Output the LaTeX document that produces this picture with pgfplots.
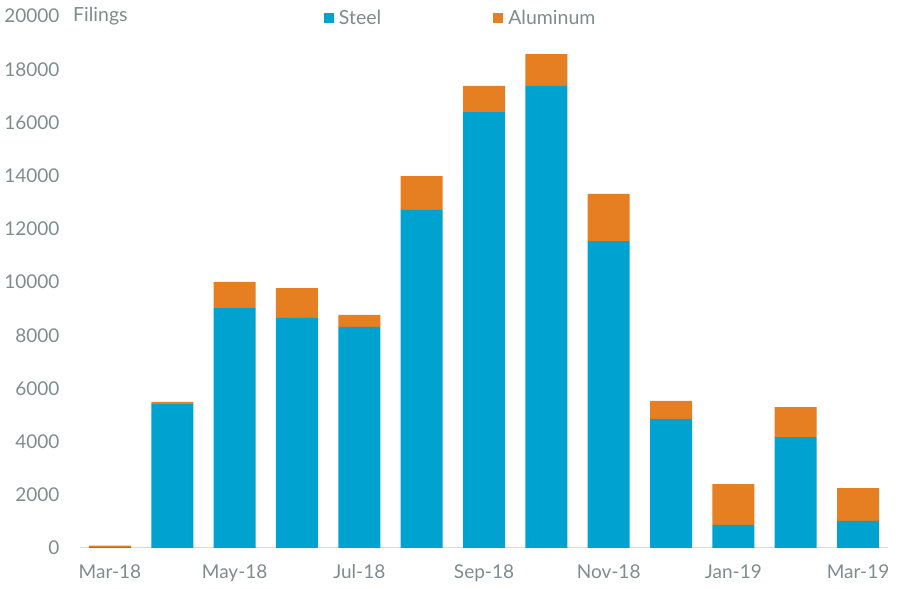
\documentclass[border=0pt]{standalone}
\usepackage{fontspec}
\setmainfont{Lato}
\usepackage{pgfplots}
\pgfplotsset{compat=1.18}
\definecolor{steel}{HTML}{00A2D0}
\definecolor{alu}{HTML}{E67E22}
\definecolor{txt}{HTML}{7F8C8D}
\definecolor{axisgray}{HTML}{D9D9D9}
\begin{document}
\begin{tikzpicture}
\useasboundingbox (-80pt,-41pt) rectangle (818pt,548pt);
\begin{axis}[
  scale only axis,
  width=808pt, height=532pt,
  anchor=south west, at={(0,0)},
  ybar stacked, bar width=42pt,
  xmin=-0.48, xmax=12.48,
  ymin=0, ymax=20000,
  ytick={0,2000,...,20000},
  scaled y ticks=false,
  yticklabel={\pgfmathprintnumber[fixed,1000 sep={}]{\tick}},
  xtick={0,2,...,12},
  xticklabels={Mar-18,May-18,Jul-18,Sep-18,Nov-18,Jan-19,Mar-19},
  axis x line*=bottom, axis y line*=left,
  x axis line style={draw=axisgray, line width=1pt},
  y axis line style={draw=none},
  major tick length=0pt,
  tick label style={font=\fontsize{19}{22}\selectfont, text=txt},
  /pgf/number format/assume math mode=true,
  yticklabel style={xshift=-17pt},
  xticklabel style={yshift=-13pt},
  legend style={draw=none, fill=none, at={(0.298,0.996)}, anchor=west,
    font=\fontsize{19.5}{22}\selectfont, text=txt, legend columns=2,
    /tikz/every even column/.append style={column sep=110pt}},
  legend image code/.code={\fill[#1] (0pt,-5pt) rectangle (10pt,5pt);
    \path (0pt,0pt) -- (13pt,0pt);},
  clip=false,
]
\addplot[fill=steel, draw=none] coordinates {
  (0,30) (1,5410) (2,9020) (3,8650) (4,8310) (5,12710) (6,16390)
  (7,17370) (8,11540) (9,4850) (10,865) (11,4170) (12,1015)
};
\addplot[fill=alu, draw=none] coordinates {
  (0,60) (1,80) (2,980) (3,1120) (4,450) (5,1270) (6,980)
  (7,1200) (8,1770) (9,680) (10,1535) (11,1130) (12,1240)
};
\legend{Steel, Aluminum}
\node[anchor=west, text=txt, font=\fontsize{19.5}{22}\selectfont, inner sep=0pt]
  at (rel axis cs:0,1) [xshift=-7pt] {Filings};
\end{axis}
\end{tikzpicture}
\end{document}
